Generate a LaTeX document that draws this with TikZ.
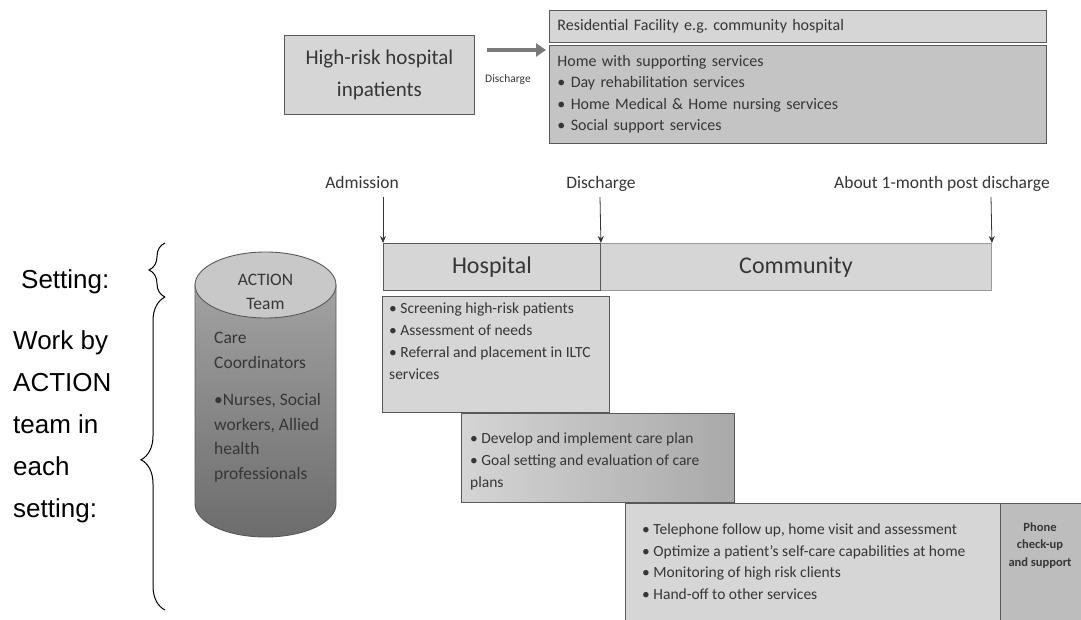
\documentclass[tikz,border=0pt]{standalone}
\usepackage{fontspec}
\setmainfont{Carlito}
\newfontfamily\arialfont{Liberation Sans}
\usetikzlibrary{arrows.meta,decorations.pathreplacing}
\definecolor{inkgray}{HTML}{363636}
\definecolor{edgegray}{HTML}{595959}
\definecolor{paleedge}{HTML}{9A9A9A}
\definecolor{boxgray}{HTML}{D6D6D6}
\definecolor{homegray}{HTML}{C4C4C4}
\definecolor{phonegray}{HTML}{BDBDBD}
\definecolor{planlight}{HTML}{DEDEDE}
\definecolor{plandark}{HTML}{A9A9A9}
\definecolor{arrowgray}{HTML}{7A7A7A}
\definecolor{cyltop}{HTML}{C8C8C8}
\definecolor{cylupper}{HTML}{A2A2A2}
\definecolor{cyllower}{HTML}{6C6C6C}
\frenchspacing

\begin{document}
\begin{tikzpicture}[x=1pt,y=-1pt,>={Stealth[length=7pt,width=6pt]},
	panel/.style={draw=edgegray, line width=0.9pt, anchor=north west, inner sep=0pt},
	bullets/.style={anchor=north west, inner sep=0pt, align=left, text=inkgray, font=\fontsize{15.5}{22}\selectfont},
	timelbl/.style={anchor=base, text=inkgray, font=\fontsize{17.5}{21}\selectfont},
	sidetext/.style={inner sep=0pt, align=left, font=\arialfont\fontsize{26}{42}\selectfont}]
	\path[use as bounding box, fill=white] (0,0) rectangle (1081,620);

	% discharge destinations
	\node (inpat)		at (284,35) [panel, fill=boxgray, minimum width=190, minimum height=79, align=center, text=inkgray, font=\fontsize{21}{32}\selectfont] {High-risk hospital\\inpatients};
	\node (resid)		at (549,10) [panel, fill=boxgray, minimum width=497, minimum height=32, text width=481, inner xsep=8pt, align=left, text=inkgray, font=\fontsize{16}{20}\selectfont] {Residential Facility e.g. community hospital};
	\node (home)		at (549,45) [panel, fill=homegray, minimum width=497, minimum height=98, text width=481, inner xsep=8pt, align=left, text=inkgray, font=\fontsize{16}{21.5}\selectfont] {Home with supporting services\\%
		• Day rehabilitation services\\• Home Medical \& Home nursing services\\• Social support services};
	\coordinate (dcFrom)	at (487,50);
	\coordinate (dcTo)		at (546,50);
	\draw[line width=4.5pt, arrowgray, -{Triangle[length=10pt,width=13pt]}] (dcFrom) -- (dcTo);
	\node (dcLbl)		at (508,79) [text=inkgray, font=\fontsize{11.5}{14}\selectfont] {Discharge};

	% timeline
	\node (admLbl)		at (362,189) [timelbl] {Admission};
	\node (disLbl)		at (601,189) [timelbl] {Discharge};
	\node (monLbl)		at (942,189) [timelbl] {About 1-month post discharge};
	\node (comm)		at (600,243) [panel, draw=paleedge, fill=boxgray, minimum width=391, minimum height=47, text=inkgray, font=\fontsize{24}{28}\selectfont] {Community};
	\node (hosp)		at (383,243) [panel, fill=boxgray, minimum width=217, minimum height=47, text=inkgray, font=\fontsize{24}{28}\selectfont] {Hospital};
	\coordinate (admTop)	at (383,197);
	\coordinate (disTop)	at (600,197);
	\coordinate (monTop)	at (991,197);
	\path (admTop)		edge[->, thick, inkgray] (hosp.north west)
		(disTop)			edge[->, thick, inkgray] (hosp.north east)
		(monTop)			edge[->, thick, inkgray] (comm.north east);

	% work steps
	\node (screen)		at (382,296) [panel, fill=boxgray, minimum width=227, minimum height=116] {};
	\node (screenTxt)	at (389,302.5) [bullets] {• Screening high-risk patients\\• Assessment of needs\\%
		• Referral and placement in ILTC\\services};
	\node (plan)		at (461,413) [panel, left color=planlight!90!gray, middle color=planlight, right color=plandark, minimum width=273, minimum height=89] {};
	\node (planTxt)		at (470,432.5) [bullets] {• Develop and implement care plan\\• Goal setting and evaluation of care\\plans};
	\node (follow)		at (625,503) [panel, fill=boxgray, minimum width=375, minimum height=130] {};
	\node (followTxt)	at (642,523.5) [bullets, font=\fontsize{15.5}{21.7}\selectfont] {• Telephone follow up, home visit and assessment\\%
		• Optimize a patient’s self-care capabilities at home\\• Monitoring of high risk clients\\• Hand-off to other services};
	\node (phone)		at (1000,503) [panel, fill=phonegray, minimum width=90, minimum height=130] {};
	\node (phoneTxt)	at (1040,545.5) [align=center, text=inkgray, font=\bfseries\fontsize{12.5}{17.5}\selectfont] {Phone\\check-up\\and support};

	% ACTION team cylinder
	\draw[edgegray, line width=0.9pt, top color=cylupper, bottom color=cyllower]
		(195,285) -- (195,504) arc[start angle=180, end angle=0, x radius=70.5, y radius=33] -- (336,285) -- cycle;
	\draw[edgegray, line width=0.9pt, fill=cyltop] (265.5,285) ellipse [x radius=70.5, y radius=33];
	\node (teamTxt)		at (265.5,292) [align=center, text=inkgray, font=\fontsize{17.5}{24}\selectfont] {ACTION\\Team};
	\node (staffTxt)	at (214,332) [bullets, font=\fontsize{17.5}{24.5}\selectfont] {Care\\Coordinators\\[13pt]%
		•Nurses, Social\\workers, Allied\\health\\professionals};

	% side labels and braces
	\node (setLbl)		at (21,282) [sidetext, anchor=west] {Setting:};
	\node (workLbl)		at (13,330) [sidetext, anchor=north west] {Work by\\ACTION\\team in\\each\\setting:};
	\coordinate (setTop)	at (165,243);
	\coordinate (setBot)	at (165,297);
	\coordinate (workBot)	at (165,610);
	\draw[line width=1pt, decorate, decoration={brace, amplitude=16pt}] (setBot) -- (setTop);
	\draw[line width=1pt, decorate, decoration={brace, amplitude=24pt, aspect=0.48}] (workBot) -- (setBot);
\end{tikzpicture}
\end{document}
